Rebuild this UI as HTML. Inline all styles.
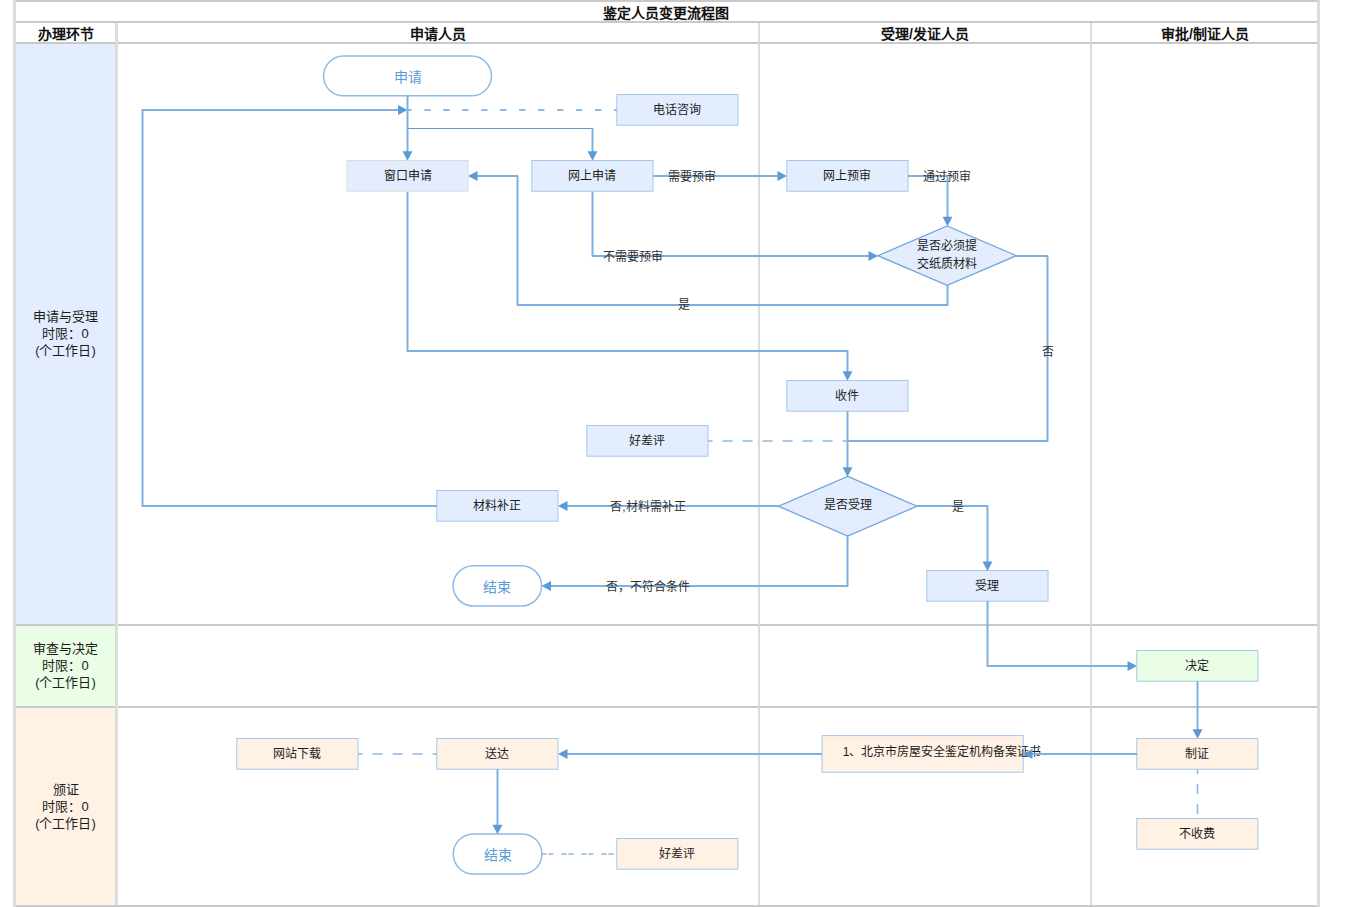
<!DOCTYPE html><html lang="zh-CN"><head><meta charset="utf-8"><style>html,body{margin:0;padding:0;width:1350px;height:907px;overflow:hidden;background:#fff;font-family:"Liberation Sans",sans-serif}</style></head><body>
<div style="position:relative;width:1350px;height:907px">
<div style="position:absolute;left:16px;top:44px;width:99px;height:580px;background:#e3edfe"></div>
<div style="position:absolute;left:16px;top:626px;width:99px;height:80px;background:#e9fee5"></div>
<div style="position:absolute;left:16px;top:708px;width:99px;height:197px;background:#fff2e5"></div>
<div style="position:absolute;left:13px;top:0px;width:1307px;height:2px;background:#c9c9c9"></div>
<div style="position:absolute;left:13px;top:21px;width:1307px;height:2px;background:#c9c9c9"></div>
<div style="position:absolute;left:13px;top:42px;width:1307px;height:2px;background:#c9c9c9"></div>
<div style="position:absolute;left:13px;top:624px;width:1307px;height:2px;background:#c9c9c9"></div>
<div style="position:absolute;left:13px;top:706px;width:1307px;height:2px;background:#c9c9c9"></div>
<div style="position:absolute;left:13px;top:905px;width:1307px;height:2px;background:#c9c9c9"></div>
<div style="position:absolute;left:13px;top:0px;width:3px;height:907px;background:#dcdcdc"></div>
<div style="position:absolute;left:1317px;top:0px;width:3px;height:907px;background:#dcdcdc"></div>
<div style="position:absolute;left:115px;top:23px;width:3px;height:882px;background:#dcdcdc"></div>
<div style="position:absolute;left:758px;top:23px;width:2px;height:882px;background:#dcdcdc"></div>
<div style="position:absolute;left:1090px;top:23px;width:2px;height:882px;background:#dcdcdc"></div>
<div style="position:absolute;left:506.00px;top:3.50px;width:320px;height:19px;line-height:19px;font-size:14px;font-weight:bold;color:#111;text-align:center;white-space:nowrap">鉴定人员变更流程图</div>
<div style="position:absolute;left:-94.50px;top:24.80px;width:320px;height:19px;line-height:19px;font-size:14px;font-weight:bold;color:#111;text-align:center;white-space:nowrap">办理环节</div>
<div style="position:absolute;left:277.50px;top:24.80px;width:320px;height:19px;line-height:19px;font-size:14px;font-weight:bold;color:#111;text-align:center;white-space:nowrap">申请人员</div>
<div style="position:absolute;left:765.00px;top:24.80px;width:320px;height:19px;line-height:19px;font-size:14px;font-weight:bold;color:#111;text-align:center;white-space:nowrap">受理/发证人员</div>
<div style="position:absolute;left:1045.00px;top:24.80px;width:320px;height:19px;line-height:19px;font-size:14px;font-weight:bold;color:#111;text-align:center;white-space:nowrap">审批/制证人员</div>
<div style="position:absolute;left:-94.50px;top:307.90px;width:320px;height:51px;line-height:17px;font-size:13px;font-weight:normal;color:#1c1c1c;text-align:center;white-space:nowrap">申请与受理<br>时限：0<br>(个工作日)</div>
<div style="position:absolute;left:-94.50px;top:640.40px;width:320px;height:51px;line-height:17px;font-size:13px;font-weight:normal;color:#1c1c1c;text-align:center;white-space:nowrap">审查与决定<br>时限：0<br>(个工作日)</div>
<div style="position:absolute;left:-94.50px;top:780.90px;width:320px;height:51px;line-height:17px;font-size:13px;font-weight:normal;color:#1c1c1c;text-align:center;white-space:nowrap">颁证<br>时限：0<br>(个工作日)</div>
<svg width="1350" height="907" style="position:absolute;left:0;top:0"><rect x="616.8" y="94.5" width="121.20" height="30.70" fill="#e3edfe" stroke="#a6c7ed" stroke-width="1"/>
<rect x="347.0" y="160.5" width="121.00" height="30.70" fill="#e3edfe" stroke="#dcdcdc" stroke-width="1"/>
<rect x="531.8" y="160.5" width="121.20" height="30.70" fill="#e3edfe" stroke="#a6c7ed" stroke-width="1"/>
<rect x="786.8" y="160.5" width="121.20" height="30.70" fill="#e3edfe" stroke="#a6c7ed" stroke-width="1"/>
<rect x="786.8" y="380.5" width="121.20" height="30.70" fill="#e3edfe" stroke="#a6c7ed" stroke-width="1"/>
<rect x="586.8" y="425.5" width="121.20" height="30.70" fill="#e3edfe" stroke="#a6c7ed" stroke-width="1"/>
<rect x="436.8" y="490.5" width="121.20" height="30.70" fill="#e3edfe" stroke="#a6c7ed" stroke-width="1"/>
<rect x="926.8" y="570.5" width="121.20" height="30.70" fill="#e3edfe" stroke="#a6c7ed" stroke-width="1"/>
<rect x="1136.8" y="650.5" width="121.20" height="30.70" fill="#e9fee5" stroke="#a6c7ed" stroke-width="1"/>
<rect x="1136.8" y="738.5" width="121.20" height="30.70" fill="#fff2e5" stroke="#a6c7ed" stroke-width="1"/>
<rect x="1136.8" y="818.5" width="121.20" height="30.70" fill="#fff2e5" stroke="#a6c7ed" stroke-width="1"/>
<rect x="822" y="735.6" width="201.20" height="36.60" fill="#fff2e5" stroke="#a6c7ed" stroke-width="1"/>
<rect x="236.8" y="738.5" width="121.20" height="30.70" fill="#fff2e5" stroke="#a6c7ed" stroke-width="1"/>
<rect x="436.8" y="738.5" width="121.20" height="30.70" fill="#fff2e5" stroke="#a6c7ed" stroke-width="1"/>
<rect x="616.8" y="838.5" width="121.20" height="30.70" fill="#fff2e5" stroke="#a6c7ed" stroke-width="1"/>
<rect x="323.5" y="56.1" width="168.00" height="39.70" rx="19.85" ry="19.85" fill="#fff" stroke="#8fbbe8" stroke-width="1.5"/>
<rect x="453.1" y="565.7" width="88.50" height="40.30" rx="20.15" ry="20.15" fill="#fff" stroke="#8fbbe8" stroke-width="1.5"/>
<rect x="453.3" y="833.9" width="88.60" height="40.20" rx="20.10" ry="20.10" fill="#fff" stroke="#8fbbe8" stroke-width="1.5"/>
<path d="M947.2,226.0 L1016.5,255.7 L947.2,285.4 L877.9000000000001,255.7 Z" fill="#e3edfe" stroke="#6fa5dd" stroke-width="1.3"/>
<path d="M847.7,476.4 L917.0,506.2 L847.7,536.0 L778.4000000000001,506.2 Z" fill="#e3edfe" stroke="#6fa5dd" stroke-width="1.3"/></svg>
<div style="position:absolute;left:517.40px;top:102.45px;width:320px;height:17px;line-height:17px;font-size:12px;font-weight:normal;color:#1c1c1c;text-align:center;white-space:nowrap">电话咨询</div>
<div style="position:absolute;left:247.50px;top:168.45px;width:320px;height:17px;line-height:17px;font-size:12px;font-weight:normal;color:#1c1c1c;text-align:center;white-space:nowrap">窗口申请</div>
<div style="position:absolute;left:432.40px;top:168.45px;width:320px;height:17px;line-height:17px;font-size:12px;font-weight:normal;color:#1c1c1c;text-align:center;white-space:nowrap">网上申请</div>
<div style="position:absolute;left:687.40px;top:168.45px;width:320px;height:17px;line-height:17px;font-size:12px;font-weight:normal;color:#1c1c1c;text-align:center;white-space:nowrap">网上预审</div>
<div style="position:absolute;left:687.40px;top:388.45px;width:320px;height:17px;line-height:17px;font-size:12px;font-weight:normal;color:#1c1c1c;text-align:center;white-space:nowrap">收件</div>
<div style="position:absolute;left:487.40px;top:433.45px;width:320px;height:17px;line-height:17px;font-size:12px;font-weight:normal;color:#1c1c1c;text-align:center;white-space:nowrap">好差评</div>
<div style="position:absolute;left:337.40px;top:498.45px;width:320px;height:17px;line-height:17px;font-size:12px;font-weight:normal;color:#1c1c1c;text-align:center;white-space:nowrap">材料补正</div>
<div style="position:absolute;left:827.40px;top:578.45px;width:320px;height:17px;line-height:17px;font-size:12px;font-weight:normal;color:#1c1c1c;text-align:center;white-space:nowrap">受理</div>
<div style="position:absolute;left:1037.40px;top:658.45px;width:320px;height:17px;line-height:17px;font-size:12px;font-weight:normal;color:#1c1c1c;text-align:center;white-space:nowrap">决定</div>
<div style="position:absolute;left:1037.40px;top:746.45px;width:320px;height:17px;line-height:17px;font-size:12px;font-weight:normal;color:#1c1c1c;text-align:center;white-space:nowrap">制证</div>
<div style="position:absolute;left:1037.40px;top:826.45px;width:320px;height:17px;line-height:17px;font-size:12px;font-weight:normal;color:#1c1c1c;text-align:center;white-space:nowrap">不收费</div>
<div style="position:absolute;left:782.00px;top:743.50px;width:320px;height:17px;line-height:17px;font-size:12px;font-weight:normal;color:#1c1c1c;text-align:center;white-space:nowrap">1、北京市房屋安全鉴定机构备案证书</div>
<div style="position:absolute;left:137.40px;top:746.45px;width:320px;height:17px;line-height:17px;font-size:12px;font-weight:normal;color:#1c1c1c;text-align:center;white-space:nowrap">网站下载</div>
<div style="position:absolute;left:337.40px;top:746.45px;width:320px;height:17px;line-height:17px;font-size:12px;font-weight:normal;color:#1c1c1c;text-align:center;white-space:nowrap">送达</div>
<div style="position:absolute;left:517.40px;top:846.45px;width:320px;height:17px;line-height:17px;font-size:12px;font-weight:normal;color:#1c1c1c;text-align:center;white-space:nowrap">好差评</div>
<div style="position:absolute;left:247.50px;top:68.15px;width:320px;height:19px;line-height:19px;font-size:14px;font-weight:normal;color:#5b9bd5;text-align:center;white-space:nowrap">申请</div>
<div style="position:absolute;left:337.35px;top:578.05px;width:320px;height:19px;line-height:19px;font-size:14px;font-weight:normal;color:#5b9bd5;text-align:center;white-space:nowrap">结束</div>
<div style="position:absolute;left:337.60px;top:846.20px;width:320px;height:19px;line-height:19px;font-size:14px;font-weight:normal;color:#5b9bd5;text-align:center;white-space:nowrap">结束</div>
<div style="position:absolute;left:787.20px;top:237.30px;width:320px;height:36px;line-height:18px;font-size:12px;font-weight:normal;color:#1c1c1c;text-align:center;white-space:nowrap">是否必须提<br>交纸质材料</div>
<div style="position:absolute;left:687.70px;top:497.00px;width:320px;height:17px;line-height:17px;font-size:12px;font-weight:normal;color:#1c1c1c;text-align:center;white-space:nowrap">是否受理</div>
<svg width="1350" height="907" style="position:absolute;left:0;top:0"><path d="M437,506 L142.5,506 L142.5,110 L400,110" fill="none" stroke="#7db0df" stroke-width="2" stroke-linejoin="round"/>
<path d="M407.5,110 L398.0,105.0 L398.0,115.0 Z" fill="#5b9bd5"/>
<path d="M408,110 L616.8,110" fill="none" stroke="#8db8e3" stroke-width="2" stroke-linejoin="round" stroke-dasharray="6.3 12.67" stroke-dashoffset="2.67"/>
<path d="M407.5,96 L407.5,152" fill="none" stroke="#7db0df" stroke-width="2" stroke-linejoin="round"/>
<path d="M407.5,160.8 L402.5,151.3 L412.5,151.3 Z" fill="#5b9bd5"/>
<path d="M407.5,128.5 L593.5,128.5" fill="none" stroke="#5b9bd5" stroke-width="1" stroke-linejoin="round"/>
<path d="M592.5,128 L592.5,152" fill="none" stroke="#7db0df" stroke-width="2" stroke-linejoin="round"/>
<path d="M592.5,160.8 L587.5,151.3 L597.5,151.3 Z" fill="#5b9bd5"/>
<path d="M653,176 L779,176" fill="none" stroke="#7db0df" stroke-width="2" stroke-linejoin="round"/>
<path d="M787,176 L777.5,171.0 L777.5,181.0 Z" fill="#5b9bd5"/>
<path d="M908,176 L947.5,176 L947.5,218" fill="none" stroke="#7db0df" stroke-width="2" stroke-linejoin="round"/>
<path d="M947.5,226.3 L942.5,216.8 L952.5,216.8 Z" fill="#5b9bd5"/>
<path d="M592.5,192 L592.5,256 L870,256" fill="none" stroke="#7db0df" stroke-width="2" stroke-linejoin="round"/>
<path d="M878,256 L868.5,251.0 L868.5,261.0 Z" fill="#5b9bd5"/>
<path d="M947.5,285 L947.5,305 L517.5,305 L517.5,176 L476,176" fill="none" stroke="#7db0df" stroke-width="2" stroke-linejoin="round"/>
<path d="M468,176 L477.5,171.0 L477.5,181.0 Z" fill="#5b9bd5"/>
<path d="M407.5,192 L407.5,351 L847.5,351 L847.5,372" fill="none" stroke="#7db0df" stroke-width="2" stroke-linejoin="round"/>
<path d="M847.5,380.8 L842.5,371.3 L852.5,371.3 Z" fill="#5b9bd5"/>
<path d="M1016,256 L1047.5,256 L1047.5,441 L847.5,441" fill="none" stroke="#7db0df" stroke-width="2" stroke-linejoin="round"/>
<path d="M847.5,411 L847.5,468" fill="none" stroke="#7db0df" stroke-width="2" stroke-linejoin="round"/>
<path d="M847.5,476.8 L842.5,467.3 L852.5,467.3 Z" fill="#5b9bd5"/>
<path d="M708,441 L847,441" fill="none" stroke="#8db8e3" stroke-width="1.6" stroke-linejoin="round" stroke-dasharray="10 10" stroke-dashoffset="5.50"/>
<path d="M778,506 L566,506" fill="none" stroke="#7db0df" stroke-width="2" stroke-linejoin="round"/>
<path d="M558,506 L567.5,501.0 L567.5,511.0 Z" fill="#5b9bd5"/>
<path d="M917,506 L987.5,506 L987.5,563" fill="none" stroke="#7db0df" stroke-width="2" stroke-linejoin="round"/>
<path d="M987.5,571 L982.5,561.5 L992.5,561.5 Z" fill="#5b9bd5"/>
<path d="M847.5,536 L847.5,586 L550,586" fill="none" stroke="#7db0df" stroke-width="2" stroke-linejoin="round"/>
<path d="M541.5,586 L551.0,581.0 L551.0,591.0 Z" fill="#5b9bd5"/>
<path d="M987.5,601 L987.5,666 L1129,666" fill="none" stroke="#7db0df" stroke-width="2" stroke-linejoin="round"/>
<path d="M1137,666 L1127.5,661.0 L1127.5,671.0 Z" fill="#5b9bd5"/>
<path d="M1197.5,681 L1197.5,730" fill="none" stroke="#7db0df" stroke-width="2" stroke-linejoin="round"/>
<path d="M1197.5,738.8 L1192.5,729.3 L1202.5,729.3 Z" fill="#5b9bd5"/>
<path d="M1137,754 L1031,754" fill="none" stroke="#7db0df" stroke-width="2" stroke-linejoin="round"/>
<path d="M1023,754 L1032.5,749.0 L1032.5,759.0 Z" fill="#5b9bd5"/>
<path d="M1197.5,769 L1197.5,818.5" fill="none" stroke="#8db8e3" stroke-width="1.6" stroke-linejoin="round" stroke-dasharray="10 10" stroke-dashoffset="5.00"/>
<path d="M822,754 L566,754" fill="none" stroke="#7db0df" stroke-width="2" stroke-linejoin="round"/>
<path d="M558,754 L567.5,749.0 L567.5,759.0 Z" fill="#5b9bd5"/>
<path d="M358,754 L437,754" fill="none" stroke="#8db8e3" stroke-width="1.6" stroke-linejoin="round" stroke-dasharray="10 10" stroke-dashoffset="5.40"/>
<path d="M497.5,769 L497.5,826" fill="none" stroke="#7db0df" stroke-width="2" stroke-linejoin="round"/>
<path d="M497.5,834.2 L492.5,824.7 L502.5,824.7 Z" fill="#5b9bd5"/>
<path d="M542,854 L617,854" fill="none" stroke="#8db8e3" stroke-width="1.6" stroke-linejoin="round" stroke-dasharray="5 2 5 8" stroke-dashoffset="0.50"/></svg>
<div style="position:absolute;left:532.00px;top:168.70px;width:320px;height:17px;line-height:17px;font-size:12px;font-weight:normal;color:#303030;text-align:center;white-space:nowrap">需要预审</div>
<div style="position:absolute;left:787.00px;top:169.20px;width:320px;height:17px;line-height:17px;font-size:12px;font-weight:normal;color:#303030;text-align:center;white-space:nowrap">通过预审</div>
<div style="position:absolute;left:472.50px;top:249.20px;width:320px;height:17px;line-height:17px;font-size:12px;font-weight:normal;color:#303030;text-align:center;white-space:nowrap">不需要预审</div>
<div style="position:absolute;left:524.00px;top:297.20px;width:320px;height:17px;line-height:17px;font-size:12px;font-weight:normal;color:#303030;text-align:center;white-space:nowrap">是</div>
<div style="position:absolute;left:887.50px;top:343.70px;width:320px;height:17px;line-height:17px;font-size:12px;font-weight:normal;color:#303030;text-align:center;white-space:nowrap">否</div>
<div style="position:absolute;left:488.00px;top:498.70px;width:320px;height:17px;line-height:17px;font-size:12px;font-weight:normal;color:#303030;text-align:center;white-space:nowrap">否,材料需补正</div>
<div style="position:absolute;left:797.50px;top:498.70px;width:320px;height:17px;line-height:17px;font-size:12px;font-weight:normal;color:#303030;text-align:center;white-space:nowrap">是</div>
<div style="position:absolute;left:488.00px;top:578.70px;width:320px;height:17px;line-height:17px;font-size:12px;font-weight:normal;color:#303030;text-align:center;white-space:nowrap">否，不符合条件</div>
</div></body></html>
